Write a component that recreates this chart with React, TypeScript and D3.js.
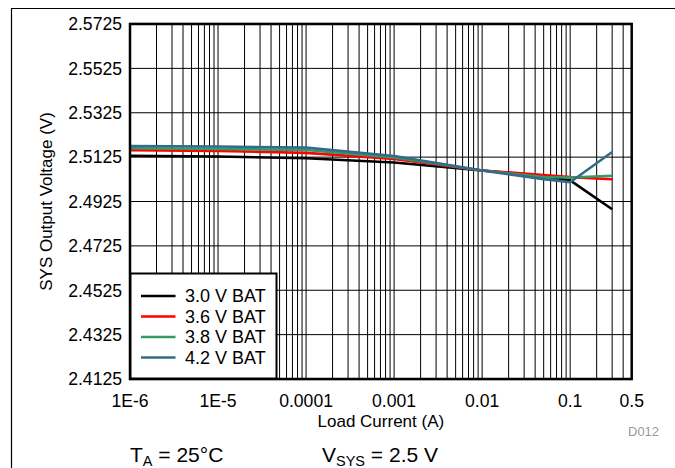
import React from "react";
import * as d3 from "d3";

const xTickValues = [1e-6, 1e-5, 1e-4, 1e-3, 1e-2, 0.1, 0.5];
const xTickLabels = ["1E-6", "1E-5", "0.0001", "0.001", "0.01", "0.1", "0.5"];
const yTickValues = [2.4125, 2.4325, 2.4525, 2.4725, 2.4925, 2.5125, 2.5325, 2.5525, 2.5725];

const loadCurrent = [1e-6, 1e-5, 1e-4, 1e-3, 1e-2, 0.05, 0.1, 0.3];
const bat30 = [2.5131, 2.5128, 2.512, 2.5101, 2.5065, 2.504, 2.502, 2.489];
const bat36 = [2.5156, 2.5153, 2.5144, 2.5117, 2.5065, 2.5044, 2.5035, 2.5025];
const bat38 = [2.5165, 2.5162, 2.5157, 2.5123, 2.5065, 2.5035, 2.5033, 2.5041];
const bat42 = [2.5175, 2.5173, 2.5168, 2.513, 2.5065, 2.5026, 2.5012, 2.5148];

const seriesNames = ["3.0 V BAT", "3.6 V BAT", "3.8 V BAT", "4.2 V BAT"];
const seriesColors = ["#000000", "#ff0000", "#339966", "#336b8a"];
const seriesValues = [bat30, bat36, bat38, bat42];

const FONT = "Arial, 'Liberation Sans', sans-serif";

export default function App() {
  const left = 130, right = 631.7, top = 24, bottom = 379;
  const x = d3.scaleLog().domain([1e-6, 0.5]).range([left, right]);
  const y = d3.scaleLinear().domain([2.4125, 2.5725]).range([bottom, top]);

  const minor: number[] = [];
  for (let d = 1e-6; d < 0.5; d *= 10) {
    for (let k = 2; k <= 9; k++) {
      const v = k * d;
      if (v < 0.5 * 0.999) minor.push(v);
    }
  }

  const line = d3
    .line<[number, number]>()
    .x((d) => x(d[0]))
    .y((d) => y(d[1]));

  const legX = 130.5, legY = 273.5, legW = 146, legH = 105;
  const rowY = [296, 316.5, 337, 357.5];

  return (
    <svg
      width={675}
      height={468}
      style={{ position: "absolute", left: 0, top: 0, background: "#fff" }}
      fontFamily={FONT}
    >
      <rect x={0} y={0} width={675} height={468} fill="#fff" />
      {/* outer frame */}
      <line x1={11} y1={8.5} x2={675} y2={8.5} stroke="#000" strokeWidth={1.2} />
      <line x1={11.5} y1={8} x2={11.5} y2={468} stroke="#000" strokeWidth={1.2} />

      {/* grid */}
      {minor.map((v, i) => (
        <line key={"m" + i} x1={x(v)} x2={x(v)} y1={top} y2={bottom} stroke="#000" strokeWidth={1} />
      ))}
      {xTickValues.map((v, i) => (
        <line key={"xm" + i} x1={x(v)} x2={x(v)} y1={top} y2={bottom} stroke="#000" strokeWidth={1} />
      ))}
      {yTickValues.map((v, i) => (
        <line key={"yg" + i} x1={left} x2={right} y1={y(v)} y2={y(v)} stroke="#000" strokeWidth={1} />
      ))}

      {/* series */}
      {seriesValues.map((vals, si) => (
        <path
          key={"s" + si}
          d={line(loadCurrent.map((c, i) => [c, vals[i]] as [number, number])) || ""}
          fill="none"
          stroke={seriesColors[si]}
          strokeWidth={2.6}
          strokeLinejoin="round"
        />
      ))}

      {/* plot border */}
      <rect x={left - 0.5} y={top - 1} width={right - left + 1} height={bottom - top + 2} fill="none" stroke="#ccc" strokeWidth={1} />
      <rect x={left} y={top} width={right - left} height={bottom - top} fill="none" stroke="#000" strokeWidth={2.5} />

      {/* legend */}
      <rect x={legX} y={legY} width={legW} height={legH} fill="#fff" stroke="#000" strokeWidth={2} />
      {seriesNames.map((n, i) => (
        <g key={"l" + i}>
          <line x1={141} x2={175.5} y1={rowY[i]} y2={rowY[i]} stroke={seriesColors[i]} strokeWidth={2.6} />
          <text x={185} y={rowY[i]} dy="0.35em" fontSize={18} fill="#000">
            {n}
          </text>
        </g>
      ))}

      {/* y tick labels */}
      {yTickValues.map((v, i) => (
        <text key={"yt" + i} x={122} y={y(v)} dy="0.36em" textAnchor="end" fontSize={17.6} fill="#000">
          {v.toFixed(4)}
        </text>
      ))}
      {/* x tick labels */}
      {xTickValues.map((v, i) => (
        <text key={"xt" + i} x={x(v)} y={407} textAnchor="middle" fontSize={17.6} fill="#000">
          {xTickLabels[i]}
        </text>
      ))}

      {/* axis titles */}
      <text x={(left + right) / 2} y={427} textAnchor="middle" fontSize={17} fill="#000">
        Load Current (A)
      </text>
      <text transform={`translate(52,${(top + bottom) / 2}) rotate(-90)`} textAnchor="middle" fontSize={17} fill="#000">
        SYS Output Voltage (V)
      </text>

      <text x={628} y={435.5} fontSize={13} fill="#999">
        D012
      </text>

      {/* footer */}
      <text x={130} y={461.5} fontSize={21} fill="#000">
        T<tspan fontSize={14.5} dy={4.5}>A</tspan>
        <tspan dy={-4.5}> = 25°C</tspan>
      </text>
      <text x={322} y={461.5} fontSize={21} fill="#000">
        V<tspan fontSize={14.5} dy={4.5}>SYS</tspan>
        <tspan dy={-4.5}> = 2.5 V</tspan>
      </text>
    </svg>
  );
}
